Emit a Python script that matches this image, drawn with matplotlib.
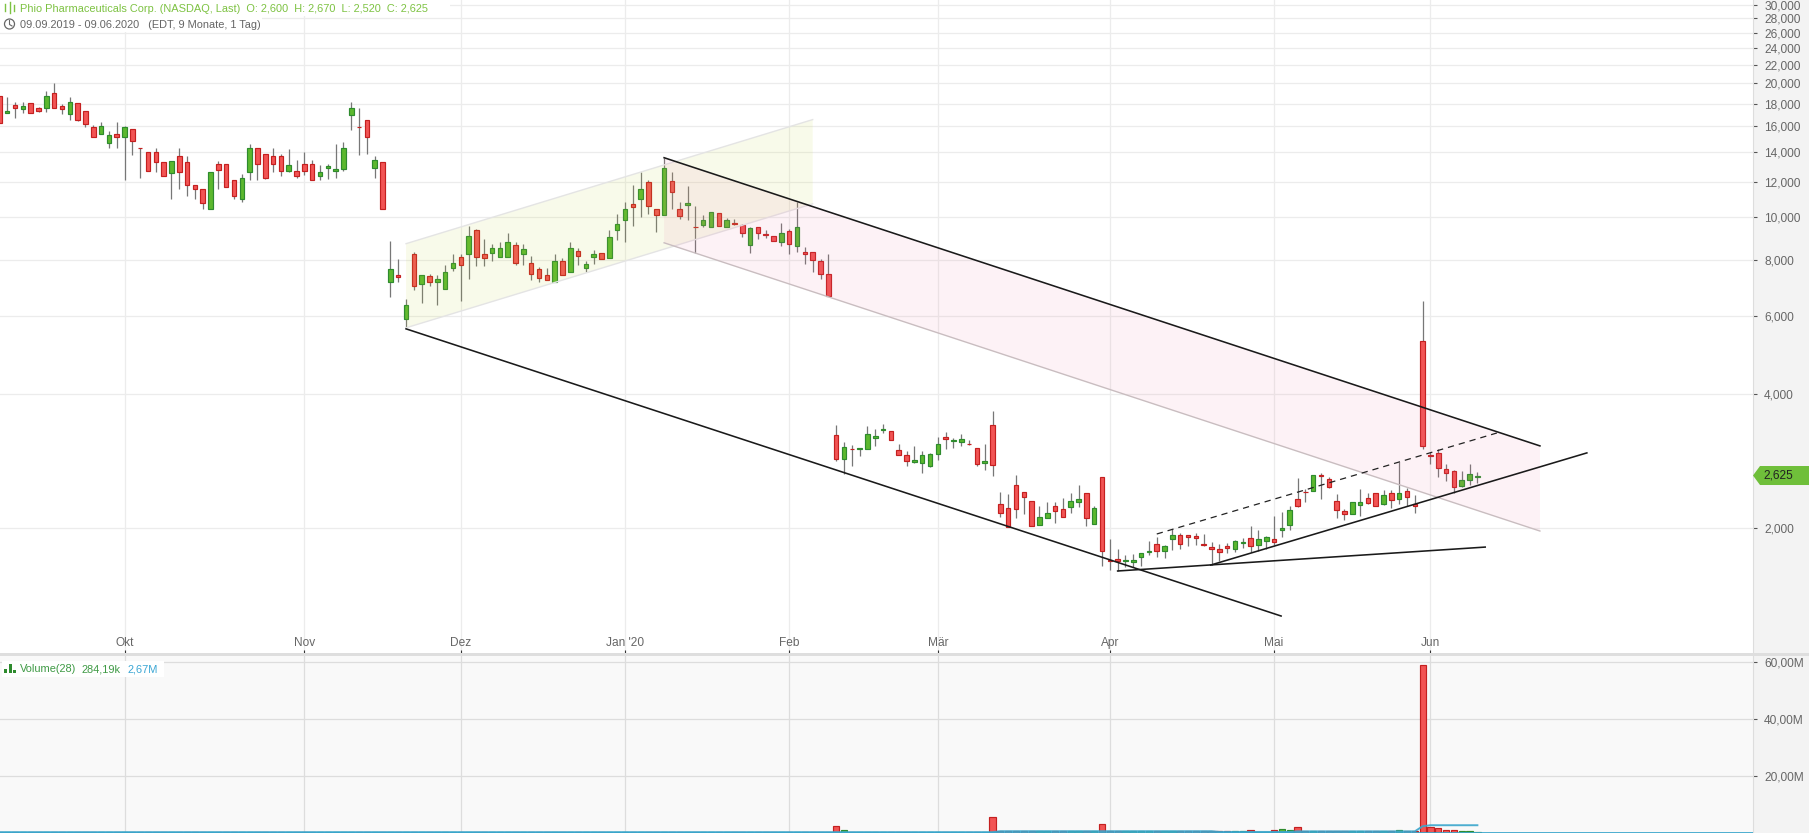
import matplotlib
matplotlib.use("Agg")
import matplotlib.pyplot as plt
import numpy as np
from matplotlib.lines import Line2D
from matplotlib.patches import Ellipse, Polygon, Rectangle

plt.rcParams['font.family'] = ['Liberation Sans', 'DejaVu Sans']

# Daily candles, 09.09.2019 - 09.06.2020, one value per trading day
opens = [
    18.77, 17.19, 17.92, 17.55, 18.11, 17.64, 17.64, 19.07, 17.82, 17.10,
    18.11, 17.37, 15.99, 15.42, 14.71, 15.42, 15.18, 15.82, 14.34, 14.05,
    14.05, 13.34, 12.59, 13.75, 13.34, 11.83, 11.59, 10.45, 13.20, 13.20,
    12.14, 11.00, 12.65, 14.34, 13.89, 13.75, 13.75, 12.72, 12.72, 13.20,
    13.20, 12.40, 12.92, 12.72, 12.85, 17.01, 15.99, 16.58, 12.92, 13.34,
    7.16, 7.42, 5.91, 8.28, 7.08, 7.38, 7.16, 6.90, 7.70, 8.15,
    8.28, 9.37, 8.28, 8.32, 8.15, 8.15, 8.67, 8.28, 7.90, 7.66,
    7.42, 7.16, 7.98, 7.54, 8.41, 7.70, 8.15, 8.32, 8.11, 9.37,
    9.87, 10.72, 11.00, 12.02, 10.45, 10.13, 12.08, 10.45, 10.66, 9.52,
    9.62, 9.52, 10.23, 9.52, 9.72, 9.62, 8.67, 9.52, 9.18, 9.08,
    8.81, 9.32, 8.63, 8.36, 8.36, 7.98, 7.46, 3.238, 2.861, 3.012,
    3.012, 3.012, 3.189, 3.323, 3.306, 2.997, 2.921, 2.817, 2.802, 2.759,
    2.936, 3.205, 3.140, 3.124, 3.092, 3.028, 2.802, 3.410, 2.266, 2.218,
    2.500, 2.411, 2.301, 2.031, 2.106, 2.242, 2.207, 2.231, 2.289, 2.399,
    2.042, 2.606, 1.695, 1.703, 1.686, 1.677, 1.721, 1.766, 1.841, 1.775,
    1.889, 1.929, 1.929, 1.919, 1.841, 1.812, 1.794, 1.822, 1.794, 1.850,
    1.899, 1.831, 1.869, 1.889, 1.979, 2.031, 2.325, 2.411, 2.424, 2.633,
    2.579, 2.301, 2.185, 2.151, 2.254, 2.337, 2.399, 2.266, 2.399, 2.325,
    2.424, 2.266, 5.27, 2.921, 2.951, 2.716, 2.688, 2.487, 2.566, 2.600,
]
highs = [
    18.77, 18.67, 18.20, 18.20, 18.11, 17.68, 19.27, 20.08, 18.01, 18.67,
    18.11, 17.37, 16.16, 16.41, 15.66, 16.41, 16.07, 15.82, 14.34, 14.05,
    14.34, 13.34, 13.41, 14.34, 13.75, 11.83, 11.59, 12.65, 13.41, 13.20,
    12.14, 12.53, 14.64, 14.34, 13.89, 14.34, 13.89, 14.27, 13.48, 14.05,
    13.48, 13.13, 13.20, 14.64, 14.79, 18.20, 17.64, 16.58, 13.75, 13.34,
    8.85, 8.07, 6.56, 8.36, 7.42, 7.46, 7.42, 7.82, 8.28, 8.28,
    9.57, 9.42, 8.94, 8.72, 8.81, 9.23, 8.81, 8.72, 8.19, 7.74,
    7.70, 8.28, 8.11, 8.81, 8.54, 7.98, 8.45, 8.32, 9.37, 10.18,
    10.83, 11.83, 12.65, 12.14, 10.45, 13.61, 12.65, 10.83, 11.77, 10.61,
    10.13, 10.29, 10.23, 9.97, 9.92, 9.67, 9.52, 9.52, 9.37, 9.08,
    9.72, 9.42, 10.83, 8.58, 8.36, 8.07, 8.28, 3.410, 3.124, 3.076,
    3.028, 3.393, 3.341, 3.428, 3.306, 3.092, 2.981, 3.060, 2.981, 2.951,
    3.205, 3.289, 3.189, 3.255, 3.156, 3.028, 3.092, 3.667, 2.411, 2.386,
    2.633, 2.411, 2.301, 2.242, 2.289, 2.289, 2.337, 2.399, 2.500, 2.399,
    2.242, 2.606, 1.889, 1.794, 1.739, 1.748, 1.757, 1.869, 1.909, 1.831,
    1.990, 1.949, 1.929, 1.949, 1.939, 1.860, 1.841, 1.850, 1.879, 1.899,
    2.021, 1.979, 1.919, 2.129, 2.173, 2.242, 2.592, 2.449, 2.633, 2.660,
    2.606, 2.386, 2.207, 2.289, 2.449, 2.399, 2.399, 2.436, 2.436, 2.817,
    2.461, 2.374, 6.49, 2.966, 3.012, 2.788, 2.702, 2.688, 2.788, 2.670,
]
lows = [
    16.33, 17.19, 16.75, 17.19, 17.19, 17.28, 17.28, 17.64, 17.10, 16.58,
    16.50, 15.99, 15.18, 15.42, 14.34, 14.34, 12.14, 13.82, 12.27, 12.72,
    12.65, 12.40, 11.00, 11.59, 11.17, 11.00, 10.45, 10.45, 11.59, 11.71,
    11.00, 10.83, 12.14, 12.14, 12.21, 12.65, 12.40, 12.65, 12.27, 12.46,
    12.14, 12.14, 12.21, 12.27, 12.72, 15.74, 13.82, 13.89, 12.27, 10.45,
    6.63, 7.16, 5.64, 6.87, 6.43, 7.01, 6.36, 6.90, 7.58, 6.49,
    7.27, 7.78, 7.78, 7.98, 8.15, 8.15, 7.82, 7.82, 7.23, 7.16,
    7.23, 7.16, 7.42, 7.54, 7.82, 7.54, 7.86, 8.07, 8.11, 8.90,
    8.81, 9.57, 10.03, 10.18, 9.27, 10.13, 10.45, 9.92, 9.87, 8.32,
    9.52, 9.52, 9.57, 9.52, 9.62, 9.04, 8.32, 8.94, 8.99, 8.85,
    8.63, 8.28, 8.36, 7.86, 7.54, 7.27, 6.66, 2.831, 2.647, 2.759,
    2.905, 3.012, 3.060, 3.272, 3.156, 2.921, 2.759, 2.802, 2.660, 2.745,
    2.846, 3.012, 3.028, 3.060, 3.076, 2.759, 2.702, 2.619, 2.118, 2.010,
    2.106, 2.151, 2.021, 2.031, 2.106, 2.052, 2.118, 2.162, 2.231, 2.021,
    2.042, 1.643, 1.609, 1.601, 1.634, 1.634, 1.643, 1.739, 1.721, 1.712,
    1.785, 1.794, 1.822, 1.831, 1.822, 1.651, 1.686, 1.757, 1.766, 1.803,
    1.766, 1.775, 1.794, 1.831, 1.909, 1.979, 2.231, 2.289, 2.424, 2.325,
    2.461, 2.106, 2.084, 2.151, 2.129, 2.266, 2.242, 2.254, 2.218, 2.266,
    2.242, 2.162, 3.012, 2.788, 2.606, 2.552, 2.399, 2.474, 2.500, 2.520,
]
closes = [
    16.33, 17.37, 17.64, 17.82, 17.19, 17.37, 18.77, 17.64, 17.55, 18.20,
    16.58, 16.24, 15.18, 16.07, 15.34, 15.18, 15.99, 14.87, 14.30, 12.72,
    13.34, 12.40, 13.41, 12.65, 11.83, 11.59, 10.77, 12.65, 12.79, 11.71,
    11.17, 12.27, 14.34, 13.20, 12.27, 13.20, 12.72, 13.13, 12.40, 12.72,
    12.14, 12.65, 13.06, 12.85, 14.34, 17.64, 15.95, 15.18, 13.48, 10.45,
    7.66, 7.35, 6.36, 7.01, 7.42, 7.16, 7.27, 7.54, 7.90, 7.82,
    9.08, 8.15, 8.11, 8.54, 8.54, 8.81, 7.90, 8.49, 7.46, 7.31,
    7.23, 7.98, 7.42, 8.54, 8.19, 7.86, 8.28, 8.07, 9.04, 9.67,
    10.45, 10.55, 11.59, 10.61, 10.13, 12.92, 11.41, 10.08, 10.77, 9.50,
    9.87, 10.29, 9.57, 9.87, 9.67, 9.23, 9.47, 9.23, 9.13, 8.85,
    9.23, 8.72, 9.52, 8.28, 8.02, 7.46, 6.66, 2.861, 3.044, 3.005,
    3.028, 3.255, 3.222, 3.341, 3.156, 2.921, 2.831, 2.846, 2.921, 2.936,
    3.092, 3.172, 3.156, 3.172, 3.084, 2.788, 2.831, 2.773, 2.162, 2.010,
    2.207, 2.349, 2.021, 2.118, 2.162, 2.185, 2.118, 2.301, 2.325, 2.106,
    2.218, 1.775, 1.690, 1.686, 1.695, 1.695, 1.757, 1.775, 1.775, 1.822,
    1.929, 1.841, 1.909, 1.899, 1.831, 1.794, 1.766, 1.803, 1.869, 1.860,
    1.822, 1.889, 1.909, 1.860, 2.000, 2.196, 2.242, 2.405, 2.633, 2.619,
    2.474, 2.196, 2.151, 2.289, 2.289, 2.278, 2.242, 2.374, 2.313, 2.399,
    2.349, 2.242, 3.060, 2.905, 2.730, 2.660, 2.474, 2.566, 2.647, 2.625,
]

# Volume in millions, most days are too small to read, so these are rough
volumes = ([0.1] * 103
           + [0.35, 0.1, 0.1, 0.1, 2.2, 0.8, 0.1, 0.1, 0.35, 0.35]
           + [0.1] * 14 + [5.3] + [0.45] * 13 + [2.9] + [0.45] * 18
           + [1.0, 0.2, 0.2, 1.0, 1.2, 0.8, 1.8] + [0.45] * 12
           + [0.8, 0.45, 0.45, 58.8, 1.8, 1.5, 0.8, 0.8, 0.45, 0.45, 0.284])
volume_avg = ([0.12] * 128 + [0.45] * 28 + [0.2] * 10 + [0.4] * 16
              + [2.2] + [2.55] * 7)

# Month ticks, as index of the first trading day of the month
month_ticks = [16, 39, 59, 80, 101, 120, 142, 163, 183]
month_labels = ['Okt', 'Nov', 'Dez', "Jan '20", 'Feb', 'Mär', 'Apr', 'Mai', 'Jun']

price_ticks = [2, 4, 6, 8, 10, 12, 14, 16, 18, 20, 22, 24, 26, 28, 30]
price_labels = ['2,000', '4,000', '6,000', '8,000', '10,000', '12,000', '14,000', '16,000',
                '18,000', '20,000', '22,000', '24,000', '26,000', '28,000', '30,000']
vol_ticks = [20, 40, 60]
vol_labels = ['20,00M', '40,00M', '60,00M']

# Drawn trend lines and channels (trading day index, price)
lower_line_x = [52, 163.9]
lower_line_y = [5.61, 1.268]
upper_line_x = [85, 197]
upper_line_y = [13.61, 3.06]
rising_line_x = [154.9, 203]
rising_line_y = [1.651, 2.951]
flat_line_x = [143, 190]
flat_line_y = [1.601, 1.812]
dashed_line_x = [148, 191.5]
dashed_line_y = [1.939, 3.272]
yellow_x = [52, 52, 104, 104]
yellow_y = [5.64, 8.72, 16.58, 10.72]
pink_x = [85, 85, 197, 197]
pink_y = [8.76, 13.61, 3.06, 1.969]

W, H = 1809, 833
GREEN, GREEN_EDGE = '#5cb82e', '#2e8b2e'
RED, RED_EDGE = '#f25454', '#c42020'
GREY_TEXT = '#666666'
HEAD_SIZE = 7.9
AXIS_SIZE = 8.6


def fx(x):
    return x / W


def fy(y):
    return 1 - y / H


x = np.arange(len(closes))
o = np.array(opens)
c = np.array(closes)
up = c >= o
xlim = (0.6 / 7.82, 1753.6 / 7.82)

fig = plt.figure(figsize=(W / 100, H / 100), dpi=100, facecolor='#f3f3f3')
ax = fig.add_axes([0, fy(653), 1753 / W, 653 / H])
vol = fig.add_axes([0, 0, 1753 / W, 177 / H], facecolor='#f9f9f9')

# price panel
ax.set_yscale('log')
ax.set_xlim(xlim)
ax.set_ylim(1.047, 30.8)
ax.vlines(x, lows, highs, color='#777777', lw=0.9, zorder=3)
ax.bar(x[up], c[up] - o[up], bottom=o[up], width=0.58, color=GREEN, edgecolor=GREEN_EDGE, lw=0.85, zorder=4)
ax.bar(x[~up], o[~up] - c[~up], bottom=c[~up], width=0.58, color=RED, edgecolor=RED_EDGE, lw=0.85, zorder=4)

ax.fill(yellow_x, yellow_y, facecolor=(0.76, 0.84, 0.2, 0.1), edgecolor='none', zorder=5)
ax.plot(yellow_x[1:3], yellow_y[1:3], color='#e4e4e4', lw=1, zorder=5)
ax.plot([yellow_x[0], yellow_x[3]], [yellow_y[0], yellow_y[3]], color='#e4e4e4', lw=1, zorder=5)
ax.fill(pink_x, pink_y, facecolor=(0.92, 0.45, 0.62, 0.09), edgecolor='none', zorder=5)
ax.plot([pink_x[0], pink_x[3]], [pink_y[0], pink_y[3]], color='#c9bdc0', lw=1, zorder=5)

for lx, ly in [(lower_line_x, lower_line_y), (upper_line_x, upper_line_y),
               (rising_line_x, rising_line_y), (flat_line_x, flat_line_y)]:
    ax.plot(lx, ly, color='#1a1a1a', lw=1.15, zorder=6)
ax.plot(dashed_line_x, dashed_line_y, color='#222222', lw=0.9, ls=(0, (5, 4)), zorder=6)

ax.set_yticks(price_ticks)
ax.set_yticklabels(price_labels)
ax.minorticks_off()
ax.yaxis.tick_right()
ax.set_xticks(month_ticks)
ax.set_xticklabels(month_labels)
ax.grid(True, color='#ececec', lw=0.9, zorder=0)
ax.set_axisbelow(True)
ax.tick_params(axis='y', length=3, width=0.8, color='#555555', labelcolor=GREY_TEXT, labelsize=AXIS_SIZE, pad=5)
ax.tick_params(axis='x', direction='in', length=2.5, width=0.8, color='#333333', labelcolor=GREY_TEXT,
               labelsize=AXIS_SIZE, pad=-11.5)
for s in ['top', 'left', 'bottom']:
    ax.spines[s].set_visible(False)
ax.spines['right'].set_color('#dddddd')

# volume panel
vol.set_xlim(xlim)
vol.set_ylim(-0.175, 61.93)
v = np.array(volumes)
vol.bar(x[up], v[up], width=0.8, color=GREEN, edgecolor=GREEN_EDGE, lw=0.85, zorder=3)
vol.bar(x[~up], v[~up], width=0.8, color=RED, edgecolor=RED_EDGE, lw=0.85, zorder=3)
vol.plot(x, volume_avg, color='#3aa6cc', lw=1.4, alpha=0.9, zorder=4)
vol.axhline(0, color='#3aa6cc', lw=1.4, alpha=0.9, zorder=4)
vol.set_yticks(vol_ticks)
vol.set_yticklabels(vol_labels)
vol.yaxis.tick_right()
vol.set_xticks(month_ticks)
vol.set_xticklabels([])
vol.grid(True, color='#dddddd', lw=0.9, zorder=0)
vol.set_axisbelow(True)
vol.tick_params(axis='y', length=3, width=0.8, color='#555555', labelcolor=GREY_TEXT, labelsize=AXIS_SIZE, pad=5)
vol.tick_params(axis='x', length=0)
for s in ['top', 'left', 'bottom']:
    vol.spines[s].set_visible(False)
vol.spines['right'].set_color('#dddddd')

# grey bar between the panels
fig.add_artist(Rectangle((0, fy(656)), 1, 3 / H, color='#dedede', lw=0, zorder=5))

# header
fig.add_artist(Rectangle((0, fy(16)), fx(450), 16 / H, color='white', lw=0, zorder=5))
fig.add_artist(Rectangle((0, fy(32)), fx(262), 16 / H, color='white', lw=0, zorder=5))
fig.text(fx(20), fy(9.5), 'Phio Pharmaceuticals Corp. (NASDAQ, Last)  O: 2,600  H: 2,670  L: 2,520  C: 2,625',
         color='#7dc242', fontsize=HEAD_SIZE, va='center', zorder=6)
fig.text(fx(20), fy(25.5), '09.09.2019 - 09.06.2020   (EDT, 9 Monate, 1 Tag)',
         color=GREY_TEXT, fontsize=HEAD_SIZE, va='center', zorder=6)
for ix, top, bot in [(4.5, 4, 11), (9.5, 2, 13), (13.5, 5, 11)]:
    fig.add_artist(Line2D([fx(ix), fx(ix)], [fy(top), fy(bot)], color='#7dc242', lw=1.0, zorder=6))
fig.add_artist(Ellipse((fx(9.5), fy(24)), 10 / W, 10 / H, facecolor='none', edgecolor=GREY_TEXT, lw=0.9, zorder=6))
fig.add_artist(Line2D([fx(9.5), fx(9.5), fx(12)], [fy(20.5), fy(24.5), fy(26)], color=GREY_TEXT, lw=0.8, zorder=6))

# volume legend
fig.add_artist(Rectangle((fx(2), fy(677)), fx(162), 16 / H, color='white', lw=0, zorder=5))
for ix, top, wd in [(4, 669, 3), (8.5, 664, 3), (12.5, 670, 3)]:
    fig.add_artist(Rectangle((fx(ix), fy(673)), wd / W, (673 - top) / H, color='#2e8b2e', lw=0, zorder=6))
fig.text(fx(20), fy(669.5), 'Volume(28)', color='#3f9a45', fontsize=HEAD_SIZE, va='center', zorder=6)
fig.text(fx(82), fy(669.5), '284,19k', color='#3f9a45', fontsize=HEAD_SIZE, va='center', zorder=6)
fig.text(fx(127), fy(669.5), '2,67M', color='#3aa6d4', fontsize=HEAD_SIZE, va='center', zorder=6)

# last price tag, placed from the last close
tag_y = ax.transData.transform((0, closes[-1]))[1]
tag = [(1753, tag_y), (1760, tag_y + 9.5), (W, tag_y + 9.5), (W, tag_y - 9.5), (1760, tag_y - 9.5)]
fig.add_artist(Polygon([(px / W, py / H) for px, py in tag], closed=True, color='#6fbf3a', lw=0, zorder=6))
fig.text(fx(1763), tag_y / H, '2,625', color='#222222', fontsize=AXIS_SIZE, va='center', zorder=7)

fig.savefig('out.png', dpi=100, facecolor=fig.get_facecolor())
